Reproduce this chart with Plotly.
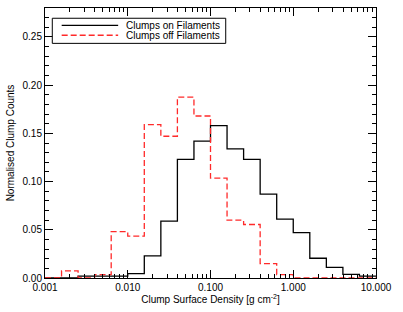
import numpy as np
import plotly.graph_objects as go

# Histogram bins: log10 surface density from -3.0 to 1.0 in steps of 0.2 dex
log_edge_start = -3.0
log_bin_width = 0.2
n_bins = 20

# Normalised counts per bin
on_filaments = [0.0, 0.0, 0.002, 0.002, 0.002, 0.0045, 0.023, 0.059, 0.123, 0.142,
                0.158, 0.134, 0.123, 0.087, 0.061, 0.047, 0.0205, 0.011, 0.0037, 0.002]
off_filaments = [0.0, 0.0073, 0.0, 0.0035, 0.048, 0.0435, 0.159, 0.147, 0.1875, 0.168,
                 0.1035, 0.060, 0.0555, 0.015, 0.0036, 0.0, 0.0, 0.0, 0.0, 0.0]

x_tick_vals = [0.001, 0.01, 0.1, 1.0, 10.0]
x_tick_text = ["0.001", "0.010", "0.100", "1.000", "10.000"]
series_names = ["Clumps on Filaments", "Clumps off Filaments"]

edges = 10 ** (log_edge_start + log_bin_width * np.arange(n_bins + 1))

def step_y(vals):
    return list(vals) + [vals[-1]]

FONT = "Liberation Sans, Arial, Helvetica, sans-serif"

fig = go.Figure()
fig.add_trace(go.Scatter(x=edges, y=step_y(on_filaments), mode="lines",
                         line=dict(color="#000000", width=1.3, shape="hv"),
                         name=series_names[0], showlegend=False))
fig.add_trace(go.Scatter(x=edges, y=step_y(off_filaments), mode="lines",
                         line=dict(color="#ff2a2a", width=1.3, shape="hv", dash="6px,3px"),
                         name=series_names[1], showlegend=False))

minor_x = [m * 10.0 ** d for d in range(-3, 1) for m in range(2, 10)]

fig.update_layout(
    width=403, height=312,
    margin=dict(l=45, r=26.5, t=8, b=34.3, autoexpand=False),
    paper_bgcolor="white", plot_bgcolor="white",
    font=dict(family=FONT, size=10, color="black"),
    xaxis=dict(type="log", range=[-3, 1], tickvals=x_tick_vals, ticktext=x_tick_text,
               ticks="inside", ticklen=8, tickcolor="black", tickwidth=1,
               showline=True, linecolor="black", linewidth=1, mirror="allticks",
               showgrid=False, zeroline=False,
               minor=dict(ticks="inside", ticklen=4, tickcolor="black", tickwidth=1,
                          tickvals=minor_x, showgrid=False),
               title=dict(text="Clump Surface Density [g cm<sup>-2</sup>]", standoff=2,
                          font=dict(size=10)),
               tickfont=dict(size=10), automargin=False),
    yaxis=dict(range=[0, 0.28], tickvals=[0, 0.05, 0.10, 0.15, 0.20, 0.25],
               tickformat=".2f", ticks="inside", ticklen=8, tickcolor="black", tickwidth=1,
               showline=True, linecolor="black", linewidth=1, mirror="allticks",
               showgrid=False, zeroline=False,
               minor=dict(ticks="inside", ticklen=4, tickcolor="black", tickwidth=1,
                          dtick=0.01, showgrid=False),
               title=dict(text="Normalised Clump Counts", standoff=6, font=dict(size=10)),
               tickfont=dict(size=10), automargin=False),
)

# Legend drawn as a boxed key in the upper left of the plot area
fig.add_shape(type="rect", xref="paper", yref="paper", x0=0.022, x1=0.546, y0=0.869, y1=0.962,
              line=dict(color="black", width=1), fillcolor="white", layer="above")
fig.add_shape(type="line", xref="paper", yref="paper", x0=0.0504, x1=0.221, y0=0.936, y1=0.936,
              line=dict(color="#000000", width=1.3), layer="above")
fig.add_shape(type="line", xref="paper", yref="paper", x0=0.0504, x1=0.221, y0=0.899, y1=0.899,
              line=dict(color="#ff2a2a", width=1.3, dash="6px,3px"), layer="above")
for name, yp in zip(series_names, [0.936, 0.899]):
    fig.add_annotation(text=name, xref="paper", yref="paper", x=0.239, y=yp,
                       xanchor="left", yanchor="middle", showarrow=False,
                       font=dict(size=10, color="black"))

fig.write_html("out.html", config={"displayModeBar": False},
               post_script="document.body.style.margin='0';document.body.style.overflow='hidden';")
